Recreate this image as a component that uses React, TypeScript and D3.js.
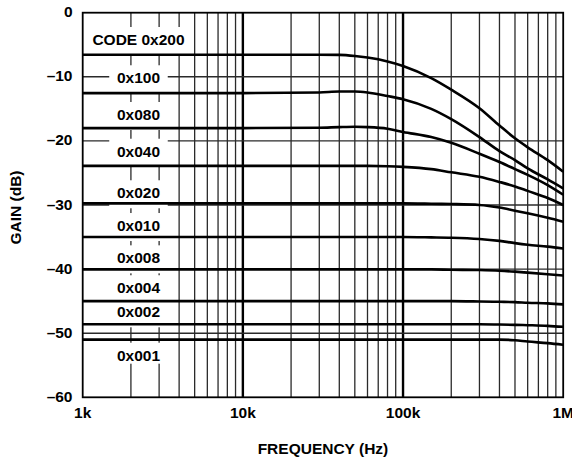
import React from "react";
import * as d3 from "d3";

// Frequency points (Hz) shared by every gain curve
const FREQ_HZ = [1e3, 1e4, 3e4, 4e4, 5e4, 6e4, 8e4, 1e5, 1.5e5, 2e5, 3e5, 4e5, 5e5, 6e5, 8e5, 1e6];

// Gain (dB) per DAC code, one value per frequency point
const GAIN_0x200 = [-6.56, -6.56, -6.56, -6.58, -6.75, -7.0, -7.6, -8.3, -10.2, -12.0, -14.9, -17.6, -19.6, -21.0, -23.0, -24.8];
const GAIN_0x100 = [-12.55, -12.55, -12.45, -12.3, -12.3, -12.45, -13.0, -13.5, -15.0, -16.6, -19.4, -21.6, -23.0, -24.3, -26.0, -27.4];
const GAIN_0x080 = [-18.0, -18.0, -17.95, -17.85, -17.8, -17.85, -18.1, -18.6, -19.4, -20.3, -22.0, -23.3, -24.4, -25.3, -26.9, -28.4];
const GAIN_0x040 = [-23.9, -23.9, -23.9, -23.9, -23.9, -23.9, -23.95, -24.05, -24.4, -24.9, -25.6, -26.4, -27.1, -27.8, -28.9, -30.0];
const GAIN_0x020 = [-29.75, -29.75, -29.75, -29.75, -29.75, -29.75, -29.75, -29.75, -29.8, -29.85, -30.0, -30.4, -30.9, -31.3, -32.0, -32.6];
const GAIN_0x010 = [-35.0, -35.0, -35.0, -35.0, -35.0, -35.0, -35.0, -35.0, -35.05, -35.1, -35.3, -35.6, -35.95, -36.2, -36.5, -36.8];
const GAIN_0x008 = [-40.05, -40.05, -40.05, -40.05, -40.05, -40.05, -40.05, -40.05, -40.05, -40.1, -40.15, -40.25, -40.4, -40.55, -40.8, -41.0];
const GAIN_0x004 = [-45.0, -45.0, -45.0, -45.0, -45.0, -45.0, -45.0, -45.0, -45.0, -45.0, -45.05, -45.1, -45.15, -45.25, -45.35, -45.5];
const GAIN_0x002 = [-48.6, -48.6, -48.6, -48.6, -48.6, -48.6, -48.6, -48.6, -48.6, -48.6, -48.6, -48.65, -48.7, -48.75, -48.85, -49.0];
const GAIN_0x001 = [-51.0, -51.0, -51.0, -51.0, -51.0, -51.0, -51.0, -51.0, -51.0, -51.0, -51.0, -51.0, -51.1, -51.3, -51.55, -51.8];

const SERIES = [GAIN_0x200, GAIN_0x100, GAIN_0x080, GAIN_0x040, GAIN_0x020, GAIN_0x010, GAIN_0x008, GAIN_0x004, GAIN_0x002, GAIN_0x001];

// Curve labels
const CODE_LABELS = ["CODE 0x200", "0x100", "0x080", "0x040", "0x020", "0x010", "0x008", "0x004", "0x002", "0x001"];

// Axis ticks
const X_TICK_VALUES = [1e3, 1e4, 1e5, 1e6];
const X_TICK_LABELS = ["1k", "10k", "100k", "1M"];
const Y_TICK_VALUES = [0, -10, -20, -30, -40, -50, -60];
const Y_TICK_LABELS = ["0", "\u201310", "\u201320", "\u201330", "\u201340", "\u201350", "\u201360"];

// Label anchor: frequency and baseline level (dB) of each code label
const LABEL_FREQ = 2230;
const LABEL_BASE_DB = [-5.04, -11.01, -16.74, -22.47, -28.95, -34.06, -39.1, -43.77, -47.52, -54.29];

const W = 572;
const H = 462;
const LEFT = 82.7;
const RIGHT = 563.2;
const TOP = 12.7;
const BOTTOM = 397.3;
const FONT = "'Liberation Sans', Arial, Helvetica, sans-serif";
const FS = 15.5;

export default function App() {
  const x = d3.scaleLog().domain([1e3, 1e6]).range([LEFT, RIGHT]);
  const y = d3.scaleLinear().domain([-60, 0]).range([BOTTOM, TOP]);

  const line = d3
    .line<number>()
    .x((_, i) => x(FREQ_HZ[i]))
    .y((v) => y(v))
    .curve(d3.curveMonotoneX);

  const minorTicks = x.ticks().filter((t) => !X_TICK_VALUES.includes(t));
  const decadeInner = [1e4, 1e5];
  const hGrid = [-10, -20, -30, -40, -50];

  const labelX = x(LABEL_FREQ);
  const last = CODE_LABELS.length - 1;

  return (
    <svg
      width={W}
      height={H}
      style={{ position: "absolute", left: 0, top: 0, background: "#fff" }}
      fontFamily={FONT}
      fontWeight="bold"
      fontSize={FS}
    >
      <rect x={0} y={0} width={W} height={H} fill="#fff" />

      {/* minor log grid */}
      {minorTicks.map((t) => (
        <line key={"m" + t} x1={x(t)} x2={x(t)} y1={TOP} y2={BOTTOM} stroke="#2a2a2a" strokeWidth={1.3} />
      ))}
      {/* decade lines */}
      {decadeInner.map((t) => (
        <line key={"d" + t} x1={x(t)} x2={x(t)} y1={TOP} y2={BOTTOM} stroke="#000" strokeWidth={2.4} />
      ))}
      {/* horizontal grid */}
      {hGrid.map((g) => (
        <line key={"h" + g} x1={LEFT} x2={RIGHT} y1={y(g)} y2={y(g)} stroke="#2a2a2a" strokeWidth={1.4} />
      ))}

      {/* label backgrounds */}
      {CODE_LABELS.map((lab, i) => {
        const w = lab.length * FS * 0.6;
        const b = y(LABEL_BASE_DB[i]);
        const bottom = i === last ? b + 3 : b + 10;
        return <rect key={"bg" + lab} x={labelX - w / 2 - 6} y={b - 18} width={w + 12} height={bottom - (b - 18)} fill="#fff" />;
      })}

      {/* frame */}
      <rect x={LEFT} y={TOP} width={RIGHT - LEFT} height={BOTTOM - TOP} fill="none" stroke="#000" strokeWidth={1.8} />

      {/* gain curves */}
      {SERIES.map((s, i) => (
        <path key={"c" + i} d={line(s) || ""} fill="none" stroke="#000" strokeWidth={2.6} strokeLinejoin="round" />
      ))}

      {/* code labels */}
      {CODE_LABELS.map((lab, i) => (
        <text key={"t" + lab} x={labelX} y={y(LABEL_BASE_DB[i])} textAnchor="middle" fill="#000">
          {lab}
        </text>
      ))}

      {/* y tick labels */}
      {Y_TICK_VALUES.map((v, i) => (
        <text key={"yt" + v} x={72.5} y={y(v) + 4.5} textAnchor="end" fill="#000">
          {Y_TICK_LABELS[i]}
        </text>
      ))}

      {/* x tick labels */}
      {X_TICK_VALUES.map((v, i) => (
        <text key={"xt" + v} x={x(v)} y={418.3} textAnchor="middle" fill="#000">
          {X_TICK_LABELS[i]}
        </text>
      ))}

      {/* axis titles */}
      <text x={(LEFT + RIGHT) / 2} y={454} textAnchor="middle" fill="#000">
        FREQUENCY (Hz)
      </text>
      <text transform="translate(21.3,207.5) rotate(-90)" textAnchor="middle" fill="#000">
        GAIN (dB)
      </text>
    </svg>
  );
}
